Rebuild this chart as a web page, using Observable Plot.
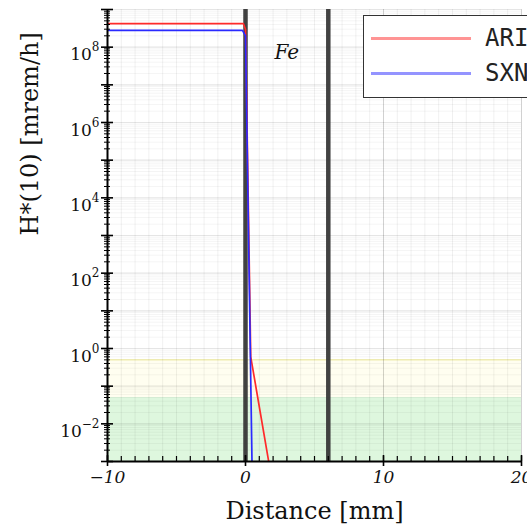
<!DOCTYPE html>
<html><head><meta charset="utf-8">
<script src="https://cdn.jsdelivr.net/npm/d3@7"></script>
<script src="https://cdn.jsdelivr.net/npm/@observablehq/plot@0.6"></script>
<style>
html,body{margin:0;padding:0;background:#fff;overflow:hidden;}
#wrap{position:relative;width:527px;height:526px;overflow:hidden;}
#legend{position:absolute;left:363px;top:15px;width:220px;height:83px;border:1.6px solid #333;background:#fff;box-sizing:border-box;}
#legend .ln{position:absolute;left:7px;width:100px;height:3px;}
#legend .tx{position:absolute;left:121px;font-family:"DejaVu Sans Mono",monospace;font-size:24px;line-height:24px;color:#222;}
</style>
</head><body>
<div id="wrap"><div id="chart"></div>
<div id="legend"></div>
</div>
<script>
// ---- data ----
const seriesNames = ["ARI", "SXN"];
const seriesColors = ["#ff2a2a", "#2a2aff"];
const legendColors = ["rgba(255,60,60,0.55)", "rgba(60,60,255,0.55)"];
const ariX = [-10, -0.15, 0.0, 0.38, 1.68];
const ariY = [4.2e8, 4.2e8, 3.0e8, 0.6, 1e-3];
const sxnX = [-10, -0.22, 0.0, 0.47];
const sxnY = [2.8e8, 2.8e8, 2.0e8, 1e-3];
const layerEdges = [0, 6];           // Fe layer boundaries [mm]
const layerLabel = [{x: 3, y: 7e7, text: "Fe"}];
const bandLow = [1e-3, 0.05, 0.05];
const bandHigh = [0.05, 0.5, 0.5];
const bandFill = ["#22cc22", "#ffee00"];
const bandOpacity = [0.15, 0.06];
const xDomain = [-10, 20];
const yDomain = [1e-3, 1e9];
const xTickMajor = [-10, 0, 10, 20];
const xTickMinor = d3.range(-10, 21, 1);
const yTickLabelExp = [-2, 0, 2, 4, 6, 8];
const yDecades = d3.range(-3, 10).map(e => Math.pow(10, e));
const yMinor = d3.range(-3, 9).flatMap(e => [2,3,4,5,6,7,8,9].map(m => m * Math.pow(10, e)));
const xLabel = "Distance [mm]";
const yLabel = "H*(10) [mrem/h]";

const rows = [
  ...ariX.map((x, i) => ({series: seriesNames[0], x, y: ariY[i]})),
  ...sxnX.map((x, i) => ({series: seriesNames[1], x, y: sxnY[i]}))
];
const bands = [0, 1].map(i => ({y1: bandLow[i], y2: bandHigh[i], fill: bandFill[i], op: bandOpacity[i]}));

const W = 527, H = 526, mL = 107, mR = 6, mT = 9, mB = 65;
const fw = W - mL - mR, fh = H - mT - mB;
const sup = e => (e < 0 ? "\u2212" + (-e) : String(e));

const chart = Plot.plot({
  width: W, height: H,
  marginLeft: mL, marginRight: mR, marginTop: mT, marginBottom: mB,
  style: {fontFamily: "DejaVu Serif", background: "white", overflow: "visible"},
  x: {domain: xDomain},
  y: {type: "log", domain: yDomain},
  marks: [
    Plot.rect(bands, {y1: "y1", y2: "y2", fill: "fill", fillOpacity: "op"}),
    Plot.ruleY([bandHigh[1]], {stroke: "#e6dc50", strokeOpacity: 0.55}),
    Plot.ruleX(xTickMinor, {stroke: "#000", strokeOpacity: 0.06}),
    Plot.ruleX(xTickMajor, {stroke: "#000", strokeOpacity: 0.13}),
    Plot.ruleY(yMinor, {stroke: "#000", strokeOpacity: 0.045}),
    Plot.ruleY(yDecades, {stroke: "#000", strokeOpacity: 0.1, strokeWidth: 1.2}),
    Plot.ruleX(layerEdges, {stroke: "#383838", strokeWidth: 4.5, strokeOpacity: 0.95}),
    Plot.line(rows, {x: "x", y: "y", z: "series", stroke: d => seriesColors[seriesNames.indexOf(d.series)], strokeWidth: 1.7, clip: true}),
    Plot.ruleY([yDomain[0]], {stroke: "#000", strokeWidth: 2}),
    Plot.ruleX([xDomain[0]], {stroke: "#000", strokeWidth: 2}),
    Plot.tickX(xTickMinor, {x: d => d, insetTop: fh - 5, stroke: "#000", strokeWidth: 1.2}),
    Plot.tickX(xTickMajor, {x: d => d, insetTop: fh - 6, insetBottom: -5, stroke: "#000", strokeWidth: 1.6}),
    Plot.tickY(yMinor, {y: d => d, insetLeft: -3, insetRight: fw - 3, stroke: "#000", strokeWidth: 1}),
    Plot.tickY(yDecades, {y: d => d, insetLeft: -6, insetRight: fw - 6, stroke: "#000", strokeWidth: 1.6}),
    Plot.text(layerLabel, {x: "x", y: "y", text: "text", fontStyle: "italic", fontSize: 20, fill: "#111"}),
    Plot.axisX({ticks: xTickMajor, tickSize: 0, tickPadding: 9, fontSize: 17, fontStyle: "italic",
      tickFormat: d => (d < 0 ? "\u2212" + (-d) : String(d)), label: null, fill: "#111"}),
    Plot.axisY({ticks: yTickLabelExp.map(e => Math.pow(10, e)), tickSize: 0, tickPadding: 8, fontSize: 17,
      tickFormat: d => "10^" + sup(Math.round(Math.log10(d))), label: null, fill: "#111"}),
    Plot.text([xLabel], {frameAnchor: "bottom", text: d => d, dy: 57, lineAnchor: "bottom", fontSize: 24, fill: "#111"}),
    Plot.text([yLabel], {frameAnchor: "left", text: d => d, rotate: -90, dx: -77, fontSize: 24, fill: "#111"})
  ]
});
document.getElementById("chart").appendChild(chart);

// superscript exponents for y tick labels
d3.select(chart).selectAll('g[aria-label="y-axis tick label"] text').each(function() {
  const t = d3.select(this);
  const s = t.text();
  if (!s.includes("^")) return;
  const [base, exp] = s.split("^");
  t.text(null);
  t.append("tspan").text(base);
  t.append("tspan").attr("dy", "-9").attr("font-size", 12).text(exp);
  t.attr("dy", "0.45em");
});
d3.select(chart).selectAll('g[aria-label="x-axis tick label"]').attr("font-style", "italic");

// legend
const lg = document.getElementById("legend");
const lineTops = [21, 56];
seriesNames.forEach((name, i) => {
  const ln = document.createElement("div");
  ln.className = "ln"; ln.style.top = lineTops[i] + "px"; ln.style.background = legendColors[i];
  lg.appendChild(ln);
  const tx = document.createElement("div");
  tx.className = "tx"; tx.style.top = (lineTops[i] - 11) + "px"; tx.textContent = name;
  lg.appendChild(tx);
});
</script>
</body></html>
